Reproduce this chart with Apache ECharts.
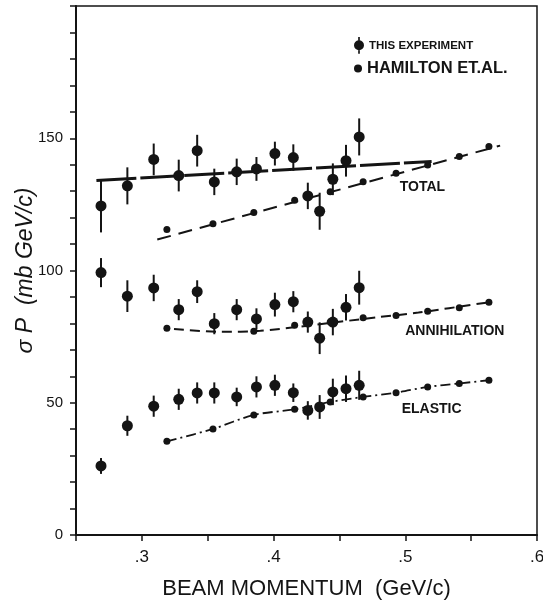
<!DOCTYPE html>
<html>
<head>
<meta charset="utf-8">
<script src="https://cdn.jsdelivr.net/npm/echarts@6/dist/echarts.min.js"></script>
<style>
  html, body { margin: 0; padding: 0; background: #fff; }
  #chart { width: 543px; height: 600px; }
</style>
</head>
<body>
<div id="chart"></div>
<script>
// beam momentum (GeV/c) of the points
var expX = [0.269, 0.289, 0.309, 0.328, 0.342, 0.355, 0.372, 0.387, 0.401, 0.415, 0.426, 0.435, 0.445, 0.455, 0.465];
var hamX = [0.319, 0.354, 0.385, 0.416, 0.443, 0.468, 0.493, 0.517, 0.541, 0.5635];

// this experiment: sigma*p and error
var totalExp = [124.4, 132, 142, 135.9, 145.3, 133.5, 137.3, 138.4, 144.2, 142.7, 128.2, 122.4, 134.5, 141.5, 150.5];
var totalErr = [10, 7, 6, 6, 6, 5, 5, 4.5, 4.5, 5, 5, 7, 6, 6, 7];
var annExp = [99.2, 90.3, 93.4, 85.2, 92, 79.9, 85.2, 81.7, 87.1, 88.2, 80.5, 74.4, 80.5, 86.1, 93.5];
var annErr = [5.5, 6, 5, 4, 4.3, 4, 4, 4, 4.5, 4, 4, 6, 5, 5, 6.4];
var elExp = [26.1, 41.3, 48.7, 51.3, 53.7, 53.7, 52.2, 56, 56.6, 53.8, 47.1, 48.4, 54.1, 55.3, 56.6];
var elErr = [3, 3.8, 4, 4, 4, 4, 3.5, 4, 4, 3.5, 3.5, 4.5, 5, 5, 5.5];

// Hamilton et al.
var totalHam = [115.5, 117.7, 121.9, 126.6, 129.8, 133.6, 136.8, 139.9, 143.1, 146.9];
var annHam = [78.2, 79.5, 77, 79.3, 80.5, 82.1, 83, 84.6, 85.9, 88];
var elHam = [35.4, 40.1, 45.4, 47.5, 50.3, 52.2, 53.8, 56, 57.3, 58.5];

// drawn curves
var totalTopCurve = [[0.2655, 134], [0.52, 141.2]];
var totalHamCurve = [[0.3117, 111.7], [0.572, 147.2]];
var annHamCurve = [[0.3244, 77.9], [0.36, 76.8], [0.39, 77.2], [0.42, 78.8], [0.45, 80.6], [0.48, 82.4], [0.51, 84.1], [0.5635, 88]];

// curve labels
var curveLabels = [['TOTAL', 0.513, 131.7], ['ANNIHILATION', 0.5376, 77], ['ELASTIC', 0.52, 47.7]];

var ink = '#141414';
var font = 'Liberation Sans';

function pairs(xs, ys) {
	return xs.map(function (x, i) { return [x, ys[i]]; });
}
function bars(xs, ys, es) {
	return xs.map(function (x, i) { return [x, ys[i] - es[i], ys[i] + es[i]]; });
}
function errorBar(params, api) {
	var a = api.coord([api.value(0), api.value(1)]);
	var b = api.coord([api.value(0), api.value(2)]);
	return {
		type: 'line',
		shape: { x1: a[0], y1: a[1], x2: b[0], y2: b[1] },
		style: { stroke: ink, lineWidth: 2 }
	};
}

var series = [];
[[totalExp, totalErr], [annExp, annErr], [elExp, elErr]].forEach(function (s) {
	series.push({
		type: 'custom',
		renderItem: errorBar,
		encode: { x: 0, y: [1, 2] },
		data: bars(expX, s[0], s[1]),
		silent: true,
		z: 3
	});
	series.push({
		name: 'THIS EXPERIMENT',
		type: 'scatter',
		symbol: 'circle',
		symbolSize: 11,
		itemStyle: { color: ink, opacity: 1 },
		data: pairs(expX, s[0]),
		z: 4
	});
});
[totalHam, annHam, elHam].forEach(function (ys) {
	series.push({
		name: 'HAMILTON ET.AL.',
		type: 'scatter',
		symbol: 'circle',
		symbolSize: 7,
		itemStyle: { color: ink, opacity: 1 },
		data: pairs(hamX, ys),
		z: 4
	});
});

series.push({
	type: 'line', data: totalTopCurve, showSymbol: false, silent: true,
	lineStyle: { color: ink, width: 3, type: [40, 4] }
});
series.push({
	type: 'line', data: totalHamCurve, showSymbol: false, silent: true,
	lineStyle: { color: ink, width: 2, type: [14, 8] }
});
series.push({
	type: 'line', data: annHamCurve, showSymbol: false, silent: true, smooth: 0.3,
	lineStyle: { color: ink, width: 2, type: [10, 6] }
});
series.push({
	type: 'line', data: pairs(hamX, elHam), showSymbol: false, silent: true, smooth: 0.3,
	lineStyle: { color: ink, width: 1.8, type: [10, 4, 2, 4] },
	markPoint: {
		symbol: 'circle', symbolSize: 0, silent: true,
		label: { show: true, color: ink, fontFamily: font, fontSize: 14, fontWeight: 'bold', formatter: '{b}' },
		data: curveLabels.map(function (l) { return { name: l[0], coord: [l[1], l[2]] }; })
	}
});

var myChart = echarts.init(document.getElementById('chart'));
var option = {
	animation: false,
	backgroundColor: '#fff',
	textStyle: { fontFamily: font, color: ink },
	grid: {
		left: 76, right: 6, top: 6, bottom: 65,
		outerBoundsMode: 'none',
		show: true, borderColor: ink, borderWidth: 1.5
	},
	legend: [
		{
			data: [{ name: 'THIS EXPERIMENT', icon: 'path://M9,0h2v20h-2z M10,4a6,6 0 1,1 -0.01,0z' }],
			left: 349, top: 32, itemWidth: 10, itemHeight: 22, itemGap: 0, itemTextGap: 7,
			textStyle: { fontFamily: font, fontSize: 11.5, fontWeight: 'bold', color: ink }
		},
		{
			data: [{ name: 'HAMILTON ET.AL.', icon: 'circle' }],
			left: 349, top: 55, itemWidth: 8, itemHeight: 8, itemTextGap: 6,
			textStyle: { fontFamily: font, fontSize: 16.5, fontWeight: 'bold', color: ink }
		}
	],
	xAxis: {
		type: 'value',
		min: 0.25, max: 0.6, interval: 0.05,
		name: 'BEAM MOMENTUM  (GeV/c)',
		nameLocation: 'middle', nameGap: 43,
		nameTextStyle: { fontFamily: font, fontSize: 22, color: ink },
		axisLine: { lineStyle: { color: ink, width: 2 } },
		axisTick: { inside: false, length: 6, lineStyle: { color: ink, width: 1.5 } },
		axisLabel: {
			fontSize: 17, color: ink, margin: 14,
			formatter: function (v) {
				var t = Math.round(v * 10);
				return (Math.abs(v * 10 - t) < 1e-6 && t >= 3) ? '.' + t : '';
			}
		},
		splitLine: { show: false }
	},
	yAxis: {
		type: 'value',
		min: 0, max: 200, interval: 10,
		name: 'σ P  (mb GeV/c)',
		nameLocation: 'middle', nameGap: 39, nameMoveOverlap: false,
		nameTextStyle: { fontFamily: font, fontSize: 23, fontStyle: 'italic', color: ink },
		axisLine: { lineStyle: { color: ink, width: 2 } },
		axisTick: { inside: false, length: 6, lineStyle: { color: ink, width: 1.5 } },
		axisLabel: {
			fontSize: 15, color: ink, margin: 13,
			formatter: function (v) { return (v % 50 === 0 && v < 200) ? String(v) : ''; }
		},
		splitLine: { show: false }
	},
	series: series
};
myChart.setOption(option, true);
</script>
</body>
</html>
